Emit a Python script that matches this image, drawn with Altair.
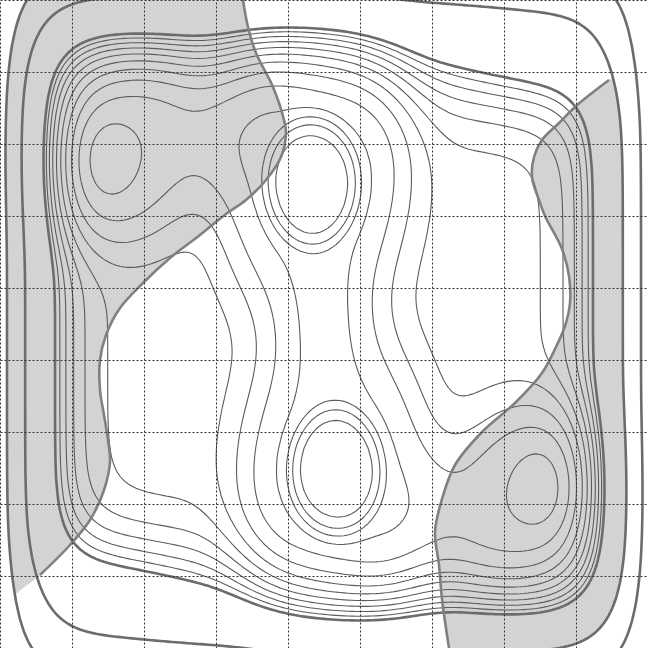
import numpy as np
import pandas as pd
import altair as alt

UNIT = 72.0                      # pixels per grid cell (648 px = 9 cells)
grid_ticks = [0, 1, 2, 3, 4, 5, 6, 7, 8, 9]

# contour levels (relative to the main thick contour)
thin_levels = [-1, -2, -3, -4, -5, -6, -7, -8, -9, -10, -11, -12]
thick_levels = [0, 12, 28]
left_clip_level = 28
right_clip_level = 12

# landscape (pixel frame, y down)
plateau = -5.5
wall_x_height, wall_x_power = 11.2, 11
wall_y_height, wall_y_power = 8.0, 6.5
wall_reach = 287.0

comp_x = [100, 94, 548, 554, 312, 336, 312, 336, 560, 88, 200, 448]
comp_y = [135, 157, 513, 491, 150, 498, 183, 471, 40, 608, 45, 603]
comp_amp = [-3.3, -1.5, -3.3, -1.5, -4.0, -4.0, -3.2, -3.2, 4.0, 4.0, -2.0, -2.0]
comp_sx = [115, 40, 115, 40, 103, 103, 47, 47, 120, 120, 130, 130]
comp_sy = [120, 58, 120, 58, 190, 190, 65, 65, 70, 70, 80, 80]
comp_pow = [2, 1, 2, 1, 2, 2, 3, 3, 1, 1, 1, 1]

# boundaries of the shaded regions (pixels)
left_edge_x = [243, 248, 256, 273, 284, 286, 281, 266, 246, 226, 200, 170, 143, 120, 106, 100, 100, 104, 108, 110, 104, 90, 70, 40]
left_edge_y = [0, 27, 53, 87, 120, 133, 157, 180, 200, 214, 235, 258, 283, 308, 335, 360, 390, 415, 440, 462, 490, 520, 545, 575]
right_edge_x = [609, 592, 575, 559, 542, 534, 532, 539, 545, 562, 569, 570, 565, 555, 542, 515, 482, 455, 442, 435, 439, 442, 449]
right_edge_y = [80, 93, 107, 123, 140, 157, 177, 200, 216, 249, 276, 303, 326, 349, 373, 403, 432, 465, 499, 532, 565, 599, 648]

# ---------------- field on a pixel grid ----------------
xs = np.arange(-24.0, 673.0, 4.0)
ys = np.arange(-24.0, 673.0, 4.0)
PX, PY = np.meshgrid(xs, ys)
V = (wall_x_height * (np.abs(PX - 324) / wall_reach) ** wall_x_power
     + wall_y_height * (np.abs(PY - 324) / wall_reach) ** wall_y_power + plateau)
for cx, cy, a, sx, sy, p in zip(comp_x, comp_y, comp_amp, comp_sx, comp_sy, comp_pow):
    q = ((PX - cx) / sx) ** 2 + ((PY - cy) / sy) ** 2
    V = V + a * np.exp(-q ** p)


def contour_paths(Z, level):
    B = Z > level
    b0, b1, b2, b3 = B[:-1, :-1], B[:-1, 1:], B[1:, 1:], B[1:, :-1]
    case = b0 * 1 + b1 * 2 + b2 * 4 + b3 * 8
    cells = np.argwhere((case != 0) & (case != 15))
    adj = {}

    def add(a, b):
        adj.setdefault(a, []).append(b)
        adj.setdefault(b, []).append(a)

    for i, j in cells:
        c0, c1, c2, c3 = b0[i, j], b1[i, j], b2[i, j], b3[i, j]
        top, bottom, left, right = ("h", i, j), ("h", i + 1, j), ("v", i, j), ("v", i, j + 1)
        e = []
        if c0 != c1:
            e.append(top)
        if c1 != c2:
            e.append(right)
        if c2 != c3:
            e.append(bottom)
        if c3 != c0:
            e.append(left)
        if len(e) == 2:
            add(e[0], e[1])
        elif len(e) == 4:
            centre = (Z[i, j] + Z[i, j + 1] + Z[i + 1, j] + Z[i + 1, j + 1]) / 4 > level
            if centre == c0:
                add(top, right)
                add(bottom, left)
            else:
                add(top, left)
                add(right, bottom)

    def pt(k):
        t, i, j = k
        if t == "h":
            za, zb = Z[i, j], Z[i, j + 1]
            f = (level - za) / (zb - za)
            return xs[j] + f * (xs[j + 1] - xs[j]), ys[i]
        za, zb = Z[i, j], Z[i + 1, j]
        f = (level - za) / (zb - za)
        return xs[j], ys[i] + f * (ys[i + 1] - ys[i])

    seen = set()
    paths = []
    starts = [k for k, v in adj.items() if len(v) == 1] + list(adj.keys())
    for s in starts:
        if s in seen:
            continue
        path = [s]
        seen.add(s)
        cur = s
        while True:
            nxt = [n for n in adj[cur] if n not in seen]
            if not nxt:
                if len(path) > 2 and s in adj[cur]:
                    path.append(s)
                break
            cur = nxt[0]
            seen.add(cur)
            path.append(cur)
        if len(path) > 2:
            paths.append([pt(k) for k in path])
    return paths


def catmull_dense(xp, yp, per=10):
    P = np.column_stack([xp, yp]).astype(float)
    P = np.vstack([2 * P[0] - P[1], P, 2 * P[-1] - P[-2]])
    out = []
    ts = np.linspace(0, 1, per, endpoint=False)
    for k in range(1, len(P) - 2):
        p0, p1, p2, p3 = P[k - 1], P[k], P[k + 1], P[k + 2]
        for t in ts:
            out.append(0.5 * (2 * p1 + (-p0 + p2) * t + (2 * p0 - 5 * p1 + 4 * p2 - p3) * t * t
                              + (-p0 + 3 * p1 - 3 * p2 + p3) * t ** 3))
    out.append(P[-2])
    return np.array(out)


rows = []
pid = 0


def collect(paths, kind):
    global pid
    for p in paths:
        for i, (x, y) in enumerate(p):
            rows.append((pid, i, round(x / UNIT, 4), round(y / UNIT, 4), kind))
        pid += 1


for lv in thin_levels:
    collect(contour_paths(V, lv), "thin")
for lv in thick_levels:
    collect(contour_paths(V, lv), "thick")

# shaded regions: beyond the S-shaped boundaries, inside a clipping contour
# (the boundaries are continued past their visible ends so the region closes cleanly)
dl = catmull_dense([240] + left_edge_x + [10, -40], [-60] + left_edge_y + [600, 660])
o = np.argsort(dl[:, 1])
GL = np.interp(PY, dl[o, 1], dl[o, 0]) - PX
dr = catmull_dense([700, 640] + right_edge_x + [452], [10, 55] + right_edge_y + [700])
o = np.argsort(dr[:, 1])
GR = PX - np.interp(PY, dr[o, 1], dr[o, 0])
FL = np.minimum(GL, (left_clip_level - V) * 4)
FR = np.minimum(GR, (right_clip_level - V) * 4)
F = np.maximum(FL, FR)
F[0, :] = F[-1, :] = F[:, 0] = F[:, -1] = -1.0
collect(contour_paths(F, 0.0), "fill")

df = pd.DataFrame(rows, columns=["pid", "i", "x", "y", "kind"])
edge_df = pd.DataFrame(
    [(0, k, x / UNIT, y / UNIT) for k, (x, y) in enumerate(zip(left_edge_x, left_edge_y))]
    + [(1, k, x / UNIT, y / UNIT) for k, (x, y) in enumerate(zip(right_edge_x, right_edge_y))],
    columns=["pid", "i", "x", "y"])

xscale = alt.Scale(domain=[0, 9], nice=False, zero=False)
yscale = alt.Scale(domain=[0, 9], nice=False, zero=False, reverse=True)
axis = alt.Axis(values=grid_ticks, labels=False, ticks=False, domain=False, title=None,
                grid=True, gridColor="#333333", gridDash=[2, 2], gridWidth=1, gridOpacity=1, zindex=1)
enc = dict(x=alt.X("x:Q", scale=xscale, axis=axis),
           y=alt.Y("y:Q", scale=yscale, axis=axis),
           detail="pid:N", order="i:Q")

base = alt.Chart(df)
fill = base.transform_filter(alt.datum.kind == "fill").mark_line(
    filled=True, color="#d3d3d3", strokeWidth=0, clip=True).encode(**enc)
thin = base.transform_filter(alt.datum.kind == "thin").mark_line(
    color="#5c5c5c", strokeWidth=1.1, clip=True).encode(**enc)
thick = base.transform_filter(alt.datum.kind == "thick").mark_line(
    color="#6c6c6c", strokeWidth=2.6, clip=True).encode(**enc)
edges = alt.Chart(edge_df).mark_line(
    color="#808080", strokeWidth=2.6, interpolate="catmull-rom", clip=True).encode(**enc)

chart = alt.layer(fill, thin, thick, edges).properties(
    width=648, height=648, padding=0, background="white",
    autosize=alt.AutoSizeParams(type="none")
).configure_view(strokeWidth=0)

chart.save("out.html", embed_options={"renderer": "svg", "actions": False})
